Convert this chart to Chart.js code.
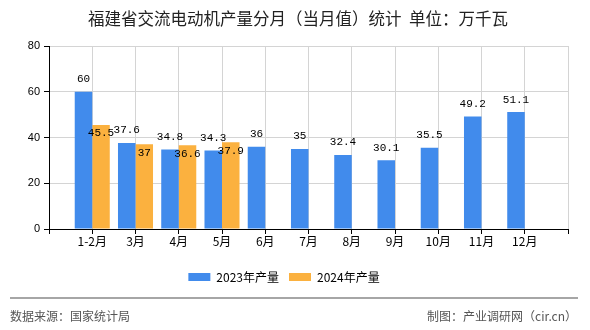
<!DOCTYPE html>
<html>
<head>
<meta charset="utf-8">
<script src="https://cdn.jsdelivr.net/npm/chart.js@4/dist/chart.umd.min.js"></script>
<style>
  body { margin: 0; background: #fff; }
  #wrap { width: 590px; height: 330px; position: relative; }
</style>
</head>
<body>
<div id="wrap"><canvas id="myChart" width="590" height="330"></canvas></div>
<script>
const months = ['1-2月', '3月', '4月', '5月', '6月', '7月', '8月', '9月', '10月', '11月', '12月'];
const prod2023 = [60, 37.6, 34.8, 34.3, 36, 35, 32.4, 30.1, 35.5, 49.2, 51.1];
const prod2024 = [45.5, 37, 36.6, 37.9];
const yTicks = [0, 20, 40, 60, 80];

const title = '福建省交流电动机产量分月（当月值）统计  单位：万千瓦';
const source = '数据来源：国家统计局';
const maker = '制图：产业调研网（cir.cn）';

const cjk = '"Noto Sans CJK SC", "Noto Sans", sans-serif';

// title, value labels and footer
const decor = {
  id: 'decor',
  afterDatasetsDraw(chart) {
    const ctx = chart.ctx;
    ctx.save();
    ctx.font = '11px "Liberation Mono", monospace';
    ctx.fillStyle = '#000';
    ctx.textAlign = 'center';
    ctx.textBaseline = 'middle';
    chart.data.datasets.forEach((ds, di) => {
      chart.getDatasetMeta(di).data.forEach((bar, i) => {
        const v = ds.data[i].y;
        const y = di === 0 ? bar.y - 12.5 : bar.y + 8.5;
        ctx.fillText(String(v), bar.x, y);
      });
    });
    ctx.restore();
  },
  afterDraw(chart) {
    const ctx = chart.ctx;
    ctx.save();
    ctx.fillStyle = '#222';
    ctx.font = '16.5px ' + cjk;
    ctx.textAlign = 'center';
    ctx.textBaseline = 'middle';
    ctx.fillText(title, 298, 19);

    ctx.strokeStyle = '#888';
    ctx.lineWidth = 1.5;
    ctx.beginPath();
    ctx.moveTo(10, 298);
    ctx.lineTo(578, 298);
    ctx.stroke();

    ctx.fillStyle = '#555';
    ctx.font = '12px ' + cjk;
    ctx.textAlign = 'left';
    ctx.fillText(source, 10, 316);
    ctx.textAlign = 'right';
    ctx.fillText(maker, 577, 316);
    ctx.restore();
  }
};

const ctx = document.getElementById('myChart').getContext('2d');
const chart = new Chart(ctx, {
  type: 'bar',
  data: {
    datasets: [
      {
        label: '2023年产量',
        data: prod2023.map((v, i) => ({ x: i, y: v })),
        backgroundColor: '#418bec'
      },
      {
        label: '2024年产量',
        data: prod2024.map((v, i) => ({ x: i, y: v })),
        backgroundColor: '#fbb13f'
      }
    ]
  },
  options: {
    responsive: false,
    animation: false,
    layout: { padding: { top: 46, right: 22, bottom: 37, left: 0 } },
    categoryPercentage: 0.81,
    barPercentage: 1,
    plugins: {
      title: { display: false },
      tooltip: { enabled: false },
      legend: {
        position: 'bottom',
        labels: {
          boxWidth: 22,
          boxHeight: 8,
          padding: 10,
          color: '#000',
          font: { size: 12, family: cjk }
        }
      }
    },
    scales: {
      x: {
        type: 'linear',
        min: -1,
        max: 11,
        offset: false,
        afterFit: s => { s.height = 32; },
        afterBuildTicks: s => { s.ticks = months.map((m, i) => ({ value: i })).concat([{ value: -1 }, { value: 11 }]); },
        grid: { offset: false, color: '#d4d4d4', tickColor: '#000', tickLength: 5 },
        border: { color: '#000' },
        ticks: {
          padding: 0,
          maxRotation: 0,
          autoSkip: false,
          color: '#000',
          font: { size: 12, family: cjk },
          callback: v => months[v] || ''
        }
      },
      y: {
        min: 0,
        max: 80,
        afterFit: s => { s.width = 49; },
        afterBuildTicks: s => { s.ticks = yTicks.map(v => ({ value: v })); },
        grid: { color: '#d4d4d4', tickColor: '#000', tickLength: 5 },
        border: { color: '#000' },
        ticks: {
          padding: 4,
          color: '#000',
          font: { size: 11, family: '"Liberation Sans", Arial, sans-serif' }
        }
      }
    }
  },
  plugins: [decor]
});
</script>
</body>
</html>
